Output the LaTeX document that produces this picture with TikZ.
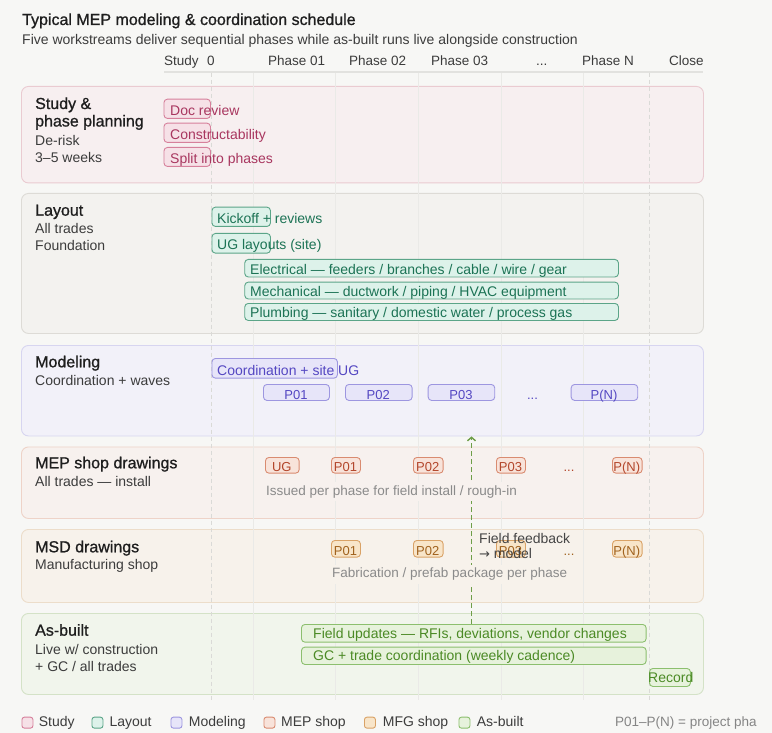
\documentclass[tikz,border=0pt]{standalone}
\usepackage{fontspec}
\setmainfont{Liberation Sans}
\newfontfamily\medfont[FakeBold=0.9]{Liberation Sans}
\newfontfamily\arrfont{DejaVu Sans}
\usetikzlibrary{arrows.meta}
\definecolor{bg}{HTML}{F7F7F5}
\definecolor{ink}{HTML}{1E1E1E}
\definecolor{ink2}{HTML}{3C3C3C}
\definecolor{capg}{HTML}{8A8A8A}
\definecolor{gridc}{HTML}{EAEAE7}
\definecolor{gridd}{HTML}{DADAD7}
\definecolor{hline}{HTML}{E2E2DF}
\definecolor{fbtxt}{HTML}{454545}
\definecolor{notec}{HTML}{858585}
% panels
\definecolor{pSf}{HTML}{F7EFF0}\definecolor{pSd}{HTML}{EACBD1}
\definecolor{pLf}{HTML}{F3F2EF}\definecolor{pLd}{HTML}{DDDBD6}
\definecolor{pMf}{HTML}{F2F1F9}\definecolor{pMd}{HTML}{D7D5F0}
\definecolor{pEf}{HTML}{F7F1EE}\definecolor{pEd}{HTML}{EED3C8}
\definecolor{pFf}{HTML}{F7F2EB}\definecolor{pFd}{HTML}{ECDDCA}
\definecolor{pAf}{HTML}{F1F5EC}\definecolor{pAd}{HTML}{D4E2C7}
% chips
\definecolor{cSf}{HTML}{F6E1E7}\definecolor{cSd}{HTML}{D6809B}\definecolor{cSt}{HTML}{A8365F}
\definecolor{cLf}{HTML}{DDF2EA}\definecolor{cLd}{HTML}{5BA588}\definecolor{cLt}{HTML}{1C7355}
\definecolor{cMf}{HTML}{E7E5F9}\definecolor{cMd}{HTML}{9D96E0}\definecolor{cMt}{HTML}{5447C2}
\definecolor{cEf}{HTML}{F8E3DA}\definecolor{cEd}{HTML}{D98B70}\definecolor{cEt}{HTML}{B3462B}
\definecolor{cFf}{HTML}{F8E5C9}\definecolor{cFd}{HTML}{D9A266}\definecolor{cFt}{HTML}{A0621E}
\definecolor{cAf}{HTML}{E7F2DC}\definecolor{cAd}{HTML}{8CBF6E}\definecolor{cAt}{HTML}{4B8A25}
\definecolor{fbk}{HTML}{6E9E48}
\newcommand\fsz[1]{\fontsize{#1}{#1}\selectfont}
\newcommand\boxat[6]{\node[#2,anchor=north west,minimum width=#5pt-#3pt,minimum height=#6pt-#4pt] (#1) at (#3,#4) {};}
\begin{document}
\begin{tikzpicture}[x=1pt,y=-1pt,
  panel/.style={rounded corners=7pt,line width=0.9pt,inner sep=0pt},
  chip/.style={rounded corners=3.5pt,line width=0.9pt,inner sep=0pt},
  chipS/.style={chip,fill=cSf,draw=cSd},
  chipL/.style={chip,fill=cLf,draw=cLd},
  chipM/.style={chip,fill=cMf,draw=cMd},
  chipE/.style={chip,fill=cEf,draw=cEd},
  chipF/.style={chip,fill=cFf,draw=cFd},
  chipA/.style={chip,fill=cAf,draw=cAd},
  txt/.style={anchor=base west,inner sep=0pt},
  ctxt/.style={anchor=base,inner sep=0pt},
  rowttl/.style={txt,font=\medfont\fsz{16},text=ink},
  rowsub/.style={txt,font=\fsz{14},text=ink2},
  hdr/.style={txt,font=\fsz{13.5},text=ink2},
  chtx/.style={font=\fsz{14}},
  ptx/.style={ctxt,font=\fsz{13}},
  captx/.style={txt,font=\fsz{13.5},text=capg,inner sep=3pt},
  lgbox/.style={rounded corners=2.5pt,line width=0.9pt,inner sep=0pt,minimum size=11pt,anchor=north west},
  lgtxt/.style={txt,font=\fsz{14},text=ink2},
  gridl/.style={gridc,line width=0.8pt},
  gridx/.style={gridd,line width=0.8pt,dash pattern=on 4pt off 3pt},
  fbarrow/.style={draw=fbk,line width=1.6pt,dash pattern=on 5pt off 3pt,-{Straight Barb[length=3.5pt,width=8pt,line width=1.4pt]}}
]
\fill[bg] (0,0) rectangle (772,733);
\useasboundingbox (0,0) rectangle (772,733);

% title
\node[txt,font=\medfont\fsz{16},text=ink] (title) at (22,25) {Typical MEP modeling \& coordination schedule};
\node[txt,font=\fsz{14},text=ink2] (subtitle) at (22,44.3) {Five workstreams deliver sequential phases while as-built runs live alongside construction};

% header
\node[hdr] (hStudy) at (164,66) {Study};
\node[hdr] (hZero) at (207,66) {0};
\node[hdr] (hP1) at (268,66) {Phase 01};
\node[hdr] (hP2) at (349,66) {Phase 02};
\node[hdr] (hP3) at (431,66) {Phase 03};
\node[hdr] (hDots) at (536,66) {...};
\node[hdr] (hPN) at (582,66) {Phase N};
\node[hdr] (hClose) at (669,66) {Close};
\draw[hline,line width=1.2pt] (164,72) -- (703,72);

% panels
\boxat{rowS}{panel,fill=pSf,draw=pSd}{21}{86}{703}{182.5}
\boxat{rowL}{panel,fill=pLf,draw=pLd}{21}{193}{703}{333}
\boxat{rowM}{panel,fill=pMf,draw=pMd}{21}{345}{703}{435.5}
\boxat{rowE}{panel,fill=pEf,draw=pEd}{21}{446.5}{703}{518}
\boxat{rowF}{panel,fill=pFf,draw=pFd}{21}{529}{703}{602}
\boxat{rowA}{panel,fill=pAf,draw=pAd}{21}{613}{703}{694}

% grid lines
\foreach \gx in {253,335,418,501,583} {\draw[gridl] (\gx,72.6) -- (\gx,700);}
\draw[gridx] (211.5,72.6) -- (211.5,700);
\draw[gridx] (649,72.6) -- (649,700);

% row labels
\node[rowttl] (tS1) at (35,109) {Study \&};
\node[rowttl] (tS2) at (35,126.5) {phase planning};
\node[rowsub] (sS1) at (35,146) {De-risk};
\node[rowsub] (sS2) at (35,162.5) {3–5 weeks};
\node[rowttl] (tL) at (35,215.7) {Layout};
\node[rowsub] (sL1) at (35,233.3) {All trades};
\node[rowsub] (sL2) at (35,250.7) {Foundation};
\node[rowttl] (tM) at (35,367.3) {Modeling};
\node[rowsub] (sM) at (35,385.7) {Coordination + waves};
\node[rowttl] (tE) at (35,468.3) {MEP shop drawings};
\node[rowsub] (sE) at (35,486.7) {All trades — install};
\node[rowttl] (tF) at (35,552.3) {MSD drawings};
\node[rowsub] (sF) at (35,569.3) {Manufacturing shop};
\node[rowttl] (tA) at (35,635.7) {As-built};
\node[rowsub] (sA1) at (35,654) {Live w/ construction};
\node[rowsub] (sA2) at (35,671.7) {+ GC / all trades};

% study chips
\boxat{sDoc}{chipS}{163.5}{98.7}{210}{118}
\boxat{sCon}{chipS}{163.5}{122.7}{210}{142}
\boxat{sSpl}{chipS}{163.5}{147}{210}{166}
\node[txt,chtx,text=cSt] (sDocT) at (170,116) {Doc review};
\node[txt,chtx,text=cSt] (sConT) at (170,140) {Constructability};
\node[txt,chtx,text=cSt] (sSplT) at (170,163.5) {Split into phases};

% layout chips
\boxat{lKick}{chipL}{211.5}{206.7}{270}{226}
\boxat{lUG}{chipL}{211.5}{233}{270}{252.7}
\boxat{lEl}{chipL}{244.3}{259}{618}{276.5}
\boxat{lMe}{chipL}{244.3}{281.7}{618}{298.5}
\boxat{lPl}{chipL}{244.3}{303}{618}{320}
\node[txt,chtx,text=cLt] (lKickT) at (217,223.3) {Kickoff + reviews};
\node[txt,chtx,text=cLt] (lUGT) at (217,250) {UG layouts (site)};
\node[txt,chtx,text=cLt] (lElT) at (250,274.3) {Electrical — feeders / branches / cable / wire / gear};
\node[txt,chtx,text=cLt] (lMeT) at (250,296) {Mechanical — ductwork / piping / HVAC equipment};
\node[txt,chtx,text=cLt] (lPlT) at (250,317.7) {Plumbing — sanitary / domestic water / process gas};

% modeling chips
\boxat{mCo}{chipM}{211.5}{358}{337}{377.7}
\node[txt,chtx,text=cMt] (mCoT) at (217,375) {Coordination + site UG};
\boxat{mP1}{chipM}{263}{384}{329}{400}
\boxat{mP2}{chipM}{345}{384}{411.7}{400}
\boxat{mP3}{chipM}{427.7}{384}{494.3}{400}
\boxat{mPN}{chipM}{570.7}{384}{637.3}{400}
\node[ptx,text=cMt] (mP1T) at (296,399) {P01};
\node[ptx,text=cMt] (mP2T) at (378.3,399) {P02};
\node[ptx,text=cMt] (mP3T) at (461,399) {P03};
\node[ptx,text=cMt] (mDots) at (532.5,399) {...};
\node[ptx,text=cMt] (mPNT) at (604,399) {P(N)};

% MEP shop chips
\boxat{eUG}{chipE}{265}{457}{298.7}{472.7}
\boxat{eP1}{chipE}{331}{457}{360}{472.7}
\boxat{eP2}{chipE}{413}{457}{442.7}{472.7}
\boxat{eP3}{chipE}{496}{457}{525}{472.7}
\boxat{ePN}{chipE}{612}{457}{641.7}{472.7}
\node[ptx,text=cEt] (eUGT) at (281.8,471.7) {UG};
\node[ptx,text=cEt] (eP1T) at (345.5,471.7) {P01};
\node[ptx,text=cEt] (eP2T) at (427.8,471.7) {P02};
\node[ptx,text=cEt] (eP3T) at (510.5,471.7) {P03};
\node[ptx,text=cEt] (eDots) at (569,471.7) {...};
\node[ptx,text=cEt] (ePNT) at (626.8,471.7) {P(N)};

% MSD chips
\boxat{fP1}{chipF}{331}{540}{360}{556.7}
\boxat{fP2}{chipF}{413}{540}{442.7}{556.7}
\boxat{fP3}{chipF}{496}{540}{525}{556.7}
\boxat{fPN}{chipF}{612}{540}{641.7}{556.7}
\node[ptx,text=cFt] (fP1T) at (345.5,555.7) {P01};
\node[ptx,text=cFt] (fP2T) at (427.8,555.7) {P02};
\node[ptx,text=cFt] (fP3T) at (510.5,555.7) {P03};
\node[ptx,text=cFt] (fDots) at (569,555.7) {...};
\node[ptx,text=cFt] (fPNT) at (626.8,555.7) {P(N)};

% as-built chips
\boxat{aFU}{chipA}{301}{624}{645.7}{641.7}
\boxat{aGC}{chipA}{301}{646.7}{645.7}{664}
\boxat{aRec}{chipA}{649}{668}{690}{686}
\node[txt,chtx,text=cAt] (aFUT) at (313,638.3) {Field updates — RFIs, deviations, vendor changes};
\node[txt,chtx,text=cAt] (aGCT) at (313,660) {GC + trade coordination (weekly cadence)};
\node[txt,chtx,text=cAt] (aRecT) at (648,682.7) {Record};

% feedback arrow
\coordinate (fbx) at (471.5,500);
\path[fbarrow] (aFU.north -| fbx) -- (rowM.south -| fbx);

% captions (on top of arrow)
\node[captx,fill=pEf] (eCap) at (263,495) {Issued per phase for field install / rough-in};
\node[captx,fill=pFf] (fCap) at (329,577.7) {Fabrication / prefab package per phase};
\node[txt,font=\fsz{14},text=fbtxt] (fb1) at (479,543.3) {Field feedback};
\node[txt,font=\fsz{14},text=fbtxt] (fb2) at (479,558.3) {{\arrfont\fsz{13}→} model};

% legend
\node[lgbox,fill=cSf,draw=cSd] (lgS) at (21.5,716.7) {};
\node[lgtxt] (lgSt) at (38.7,726.7) {Study};
\node[lgbox,fill=cLf,draw=cLd] (lgL) at (91.5,716.7) {};
\node[lgtxt] (lgLt) at (109.3,726.7) {Layout};
\node[lgbox,fill=cMf,draw=cMd] (lgM) at (170.5,716.7) {};
\node[lgtxt] (lgMt) at (188.7,726.7) {Modeling};
\node[lgbox,fill=cEf,draw=cEd] (lgE) at (263.5,716.7) {};
\node[lgtxt] (lgEt) at (281,726.7) {MEP shop};
\node[lgbox,fill=cFf,draw=cFd] (lgF) at (364,716.7) {};
\node[lgtxt] (lgFt) at (382.7,726.7) {MFG shop};
\node[lgbox,fill=cAf,draw=cAd] (lgA) at (458.5,716.7) {};
\node[lgtxt] (lgAt) at (476.7,726.7) {As-built};
\node[txt,font=\fsz{13.5},text=notec] (lgNote) at (615,726.7) {P01–P(N) = project pha};
\end{tikzpicture}
\end{document}
